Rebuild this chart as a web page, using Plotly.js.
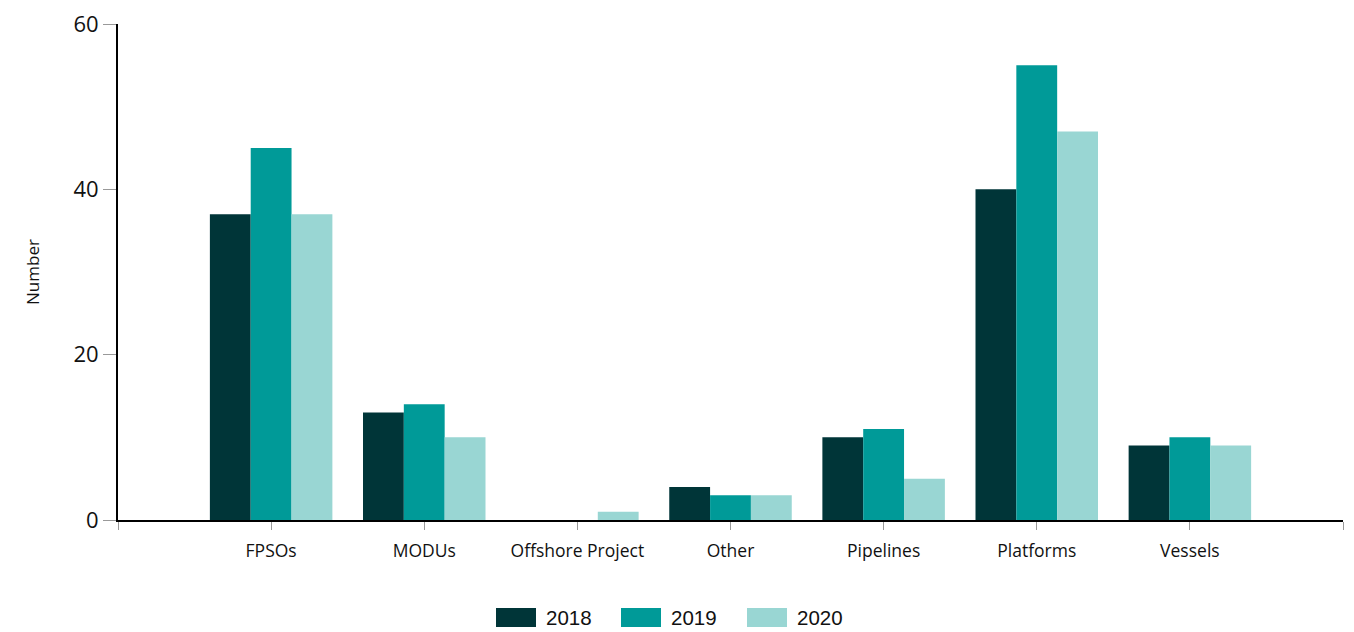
<!DOCTYPE html>
<html><head><meta charset="utf-8">
<script src="https://cdn.plot.ly/plotly-3.0.1.min.js"></script>
<style>html,body{margin:0;padding:0;background:#fff}#chart{width:1354px;height:632px}</style>
</head><body><div id="chart"></div>
<script>
var categories = ["FPSOs","MODUs","Offshore Project","Other","Pipelines","Platforms","Vessels"];
var seriesNames = ["2018","2019","2020"];
var values2018 = [37,13,0,4,10,40,9];
var values2019 = [45,14,0,3,11,55,10];
var values2020 = [37,10,1,3,5,47,9];
var yTicks = [0,20,40,60];
var colors = ["#003538","#009a98","#99d6d3"];

var idx = categories.map(function(_,i){return i;});
var allValues = [values2018, values2019, values2020];
var traces = allValues.map(function(v,k){
  return {type:"bar", x: idx, y: v, name: seriesNames[k],
    marker:{color: colors[k]}, showlegend:false, customdata: categories,
    hovertemplate: "%{customdata}: %{y}<extra>"+seriesNames[k]+"</extra>"};
});

var shapes = [], annotations = [];
var legX = [496, 621, 747];
seriesNames.forEach(function(n,k){
  shapes.push({type:"rect", xref:"paper", yref:"paper",
    x0:(legX[k]-118)/1225, x1:(legX[k]+40-118)/1225,
    y0:-(627-520)/496, y1:-(608-520)/496,
    fillcolor:colors[k], line:{width:0}});
  annotations.push({xref:"paper", yref:"paper", x:(legX[k]+48-118)/1225, y:-(617.5-520)/496,
    xanchor:"left", yanchor:"middle", showarrow:false, text:n,
    font:{family:"Liberation Sans, Arial, sans-serif", size:20.5, color:"#111"}});
});

var layout = {
  width:1354, height:632,
  margin:{l:118, r:11, t:24, b:112},
  paper_bgcolor:"#fff", plot_bgcolor:"#fff",
  barmode:"group", bargap:0.2, bargroupgap:0,
  xaxis:{range:[-1,7], tickmode:"array",
    tickvals:[-1].concat(idx).concat([7]),
    ticktext:[""].concat(categories).concat([""]),
    showgrid:false, zeroline:false, showline:true, linecolor:"#000", linewidth:2,
    ticks:"outside", ticklen:8, tickcolor:"#999", tickwidth:1, ticklabelstandoff:6,
    tickfont:{family:"Open Sans, sans-serif", size:17.5, color:"#111"}},
  yaxis:{range:[0,60], tickvals:yTicks, showgrid:false, zeroline:false,
    showline:true, linecolor:"#000", linewidth:2,
    ticks:"outside", ticklen:13, tickcolor:"#999", tickwidth:1,
    tickfont:{family:"Open Sans, sans-serif", size:22, color:"#111"},
    title:{text:"Number", font:{family:"Open Sans, sans-serif", size:17, color:"#111"}, standoff:29}},
  shapes:shapes, annotations:annotations
};
Plotly.newPlot("chart", traces, layout, {displayModeBar:false});
</script></body></html>
